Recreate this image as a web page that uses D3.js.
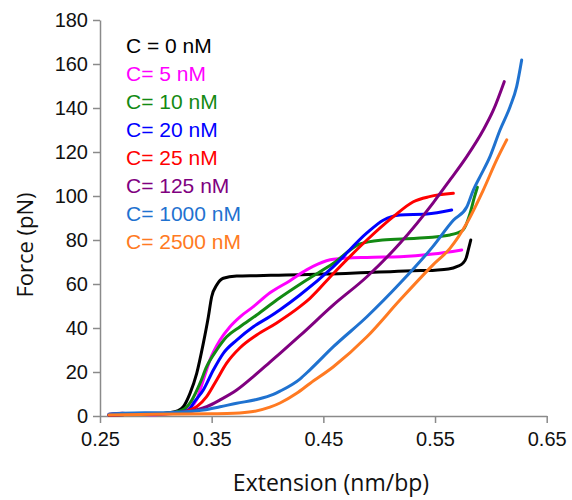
<!DOCTYPE html>
<html>
<head>
<meta charset="utf-8">
<script src="https://cdn.jsdelivr.net/npm/d3@7"></script>
<style>
  body { margin: 0; background: #fff; }
  svg { display: block; }
</style>
</head>
<body>
<div id="chart"></div>
<script>
// force-extension curves
var xTicks = [0.25, 0.35, 0.45, 0.55, 0.65]
var yTicks = [0, 20, 40, 60, 80, 100, 120, 140, 160, 180]

var labels = ["C = 0 nM", "C= 5 nM", "C= 10 nM", "C= 20 nM", "C= 25 nM", "C= 125 nM", "C= 1000 nM", "C= 2500 nM"]
var colors = ["#000000", "#ff00ff", "#138a13", "#0000ff", "#ff0000", "#800080", "#1f72d0", "#ff7a22"]

var ext0 = [0.258, 0.28, 0.30, 0.312, 0.32, 0.3246, 0.3306, 0.3366, 0.3425, 0.347, 0.350, 0.3545, 0.3604, 0.3724, 0.39, 0.41, 0.43, 0.45, 0.47, 0.49, 0.51, 0.53, 0.55, 0.562, 0.570, 0.575, 0.578, 0.580, 0.582]
var force0 = [0.5, 0.8, 1.0, 1.5, 2.5, 4.2, 10.3, 19.4, 33, 45, 54.2, 59.5, 62.6, 63.6, 63.8, 64, 64.2, 64.5, 64.8, 65.2, 65.6, 66, 66.3, 66.8, 68, 69.5, 72, 76, 80]

var ext5 = [0.258, 0.28, 0.30, 0.315, 0.325, 0.3306, 0.3365, 0.3425, 0.3485, 0.3575, 0.3664, 0.3754, 0.3873, 0.4022, 0.4201, 0.435, 0.445, 0.459, 0.489, 0.5186, 0.548, 0.5739]
var force5 = [0.5, 0.8, 0.6, 1.5, 2.5, 3.8, 7.3, 16.4, 25.5, 34.5, 40.6, 45.1, 49.7, 56, 61.5, 66.4, 69, 71.2, 72.1, 72.4, 73.6, 75.5]

var ext10 = [0.258, 0.28, 0.30, 0.315, 0.325, 0.332, 0.3395, 0.3455, 0.3545, 0.3634, 0.3754, 0.3903, 0.4082, 0.435, 0.459, 0.4828, 0.503, 0.5336, 0.5634, 0.575, 0.5813, 0.585, 0.5879]
var force10 = [0.5, 0.8, 1.0, 1.5, 3, 7, 14.8, 22.4, 30, 36, 40.6, 45.9, 52.7, 61.8, 69.4, 78.2, 80, 80.8, 82.3, 84.5, 92, 99, 104]

var ext20 = [0.258, 0.28, 0.30, 0.315, 0.325, 0.33, 0.3336, 0.3425, 0.3515, 0.3604, 0.3724, 0.3873, 0.4022, 0.4112, 0.429, 0.459, 0.489, 0.5036, 0.5186, 0.5425, 0.5649]
var force20 = [0.5, 0.8, 1.0, 1.3, 2, 3, 5.8, 11.8, 20.9, 28.5, 34.5, 40.6, 45.2, 48.3, 55, 67.9, 83.2, 89, 91.4, 91.8, 93.6]

var ext25 = [0.258, 0.28, 0.30, 0.315, 0.325, 0.331, 0.3365, 0.3455, 0.3545, 0.3634, 0.3754, 0.3903, 0.4082, 0.429, 0.438, 0.459, 0.489, 0.5127, 0.5306, 0.545, 0.5664]
var force25 = [0.5, 0.8, 1.0, 1.2, 1.8, 2.8, 4.2, 8.8, 16.4, 24, 31, 36.8, 42.3, 49.7, 53.5, 64.8, 80, 90.6, 97.4, 99.7, 101.2]

var ext125 = [0.258, 0.27, 0.28, 0.30, 0.31, 0.33, 0.3455, 0.3575, 0.3724, 0.3873, 0.4022, 0.4112, 0.429, 0.459, 0.489, 0.5186, 0.5485, 0.5634, 0.5784, 0.5932, 0.6022, 0.612]
var force125 = [0.8, 1.2, 0.8, 1.0, 1.0, 2, 4.2, 7.3, 11.8, 17.9, 24.5, 28.5, 36.5, 50.5, 63.3, 78.5, 97, 107.3, 117.9, 130, 139, 152]

var ext1000 = [0.258, 0.27, 0.29, 0.31, 0.33, 0.3425, 0.3575, 0.3724, 0.3903, 0.4052, 0.4112, 0.429, 0.438, 0.459, 0.489, 0.5186, 0.548, 0.5664, 0.5784, 0.5843, 0.5903, 0.5992, 0.6082, 0.6172, 0.6231, 0.6276]
var force1000 = [0.8, 1.2, 1.5, 1.5, 2, 2.7, 4.2, 5.8, 7.5, 9.8, 11.3, 16.8, 21, 31.5, 45.1, 60.3, 77, 89, 95, 102.7, 108.8, 117.9, 130, 140.6, 149.7, 161.8]

var ext2500 = [0.258, 0.30, 0.35, 0.37, 0.387, 0.4022, 0.4112, 0.4261, 0.438, 0.459, 0.489, 0.5186, 0.548, 0.5634, 0.5784, 0.5932, 0.6052, 0.6142]
var force2500 = [0.5, 0.8, 1.0, 1.2, 2, 4, 5.9, 10.3, 14.8, 22.4, 36, 52.7, 68.6, 76.2, 87.6, 102.7, 116.4, 125.5]

var extSets = [ext0, ext5, ext10, ext20, ext25, ext125, ext1000, ext2500]
var forceSets = [force0, force5, force10, force20, force25, force125, force1000, force2500]

var width = 572
var height = 500

var svg = d3.select("#chart")
  .append("svg")
  .attr("width", width)
  .attr("height", height)

var x = d3.scaleLinear()
  .domain([0.25, 0.65])
  .range([100, 546.7])

var y = d3.scaleLinear()
  .domain([0, 180])
  .range([416, 20])

var gx = svg.append("g")
  .attr("transform", "translate(0," + y(0) + ")")
  .call(d3.axisBottom(x).tickValues(xTicks).tickFormat(d3.format(".2f")).tickSize(7).tickSizeOuter(0).tickPadding(9))

var gy = svg.append("g")
  .attr("transform", "translate(" + x(0.25) + ",0)")
  .call(d3.axisLeft(y).tickValues(yTicks).tickSize(7).tickSizeOuter(0).tickPadding(5))

svg.selectAll(".domain, .tick line")
  .attr("stroke", "#8a8a8a")
  .attr("stroke-width", 1.5)

svg.selectAll(".tick text")
  .attr("fill", "#111")
  .style("font-family", "Liberation Sans, Arial, sans-serif")
  .style("font-size", "20px")

var line = d3.line()
  .x(function(d) { return x(d[0]); })
  .y(function(d) { return y(d[1]); })
  .curve(d3.curveMonotoneX)

var series = extSets.map(function(xs, i) {
  return xs.map(function(v, j) { return [v, forceSets[i][j]]; })
})

svg.selectAll(".curve")
  .data(series)
  .enter().append("path")
  .attr("class", "curve")
  .attr("fill", "none")
  .attr("stroke", function(d, i) { return colors[i]; })
  .attr("stroke-width", 3)
  .attr("stroke-linejoin", "round")
  .attr("stroke-linecap", "round")
  .attr("d", line)

// legend, plain coloured text
svg.selectAll(".legend")
  .data(labels)
  .enter().append("text")
  .attr("class", "legend")
  .attr("x", 126)
  .attr("y", function(d, i) { return 52.5 + i * 28.1; })
  .attr("fill", function(d, i) { return colors[i]; })
  .style("font-family", "Liberation Sans, Arial, sans-serif")
  .style("font-size", "21px")
  .text(function(d) { return d; })

svg.append("text")
  .attr("x", 331)
  .attr("y", 491)
  .attr("text-anchor", "middle")
  .style("font-family", "Open Sans, sans-serif")
  .style("font-size", "23px")
  .attr("fill", "#111")
  .text("Extension (nm/bp)")

svg.append("text")
  .attr("transform", "translate(32.5,245) rotate(-90)")
  .attr("text-anchor", "middle")
  .style("font-family", "Open Sans, sans-serif")
  .style("font-size", "22px")
  .attr("fill", "#111")
  .text("Force (pN)")
</script>
</body>
</html>
